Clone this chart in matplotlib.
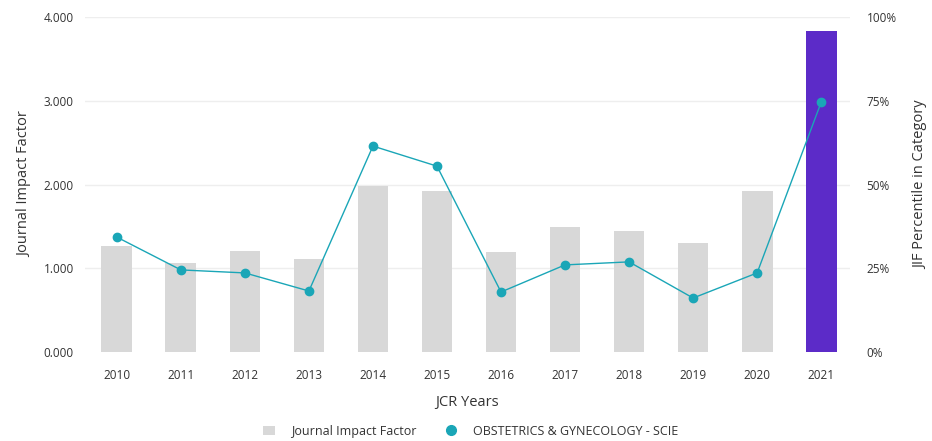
import matplotlib
matplotlib.use('Agg')
import matplotlib.pyplot as plt
from matplotlib.ticker import FuncFormatter
from matplotlib.lines import Line2D
from matplotlib.patches import Patch
import numpy as np

plt.rcParams['font.family'] = ['Open Sans', 'DejaVu Sans']

years = ['2010', '2011', '2012', '2013', '2014', '2015', '2016', '2017', '2018', '2019', '2020', '2021']
jif = [1.27, 1.06, 1.21, 1.11, 1.98, 1.92, 1.19, 1.49, 1.44, 1.30, 1.92, 3.84]
percentile = [34.3, 24.5, 23.6, 18.2, 61.5, 55.5, 17.9, 26.0, 26.9, 16.1, 23.6, 74.6]

grey = '#d8d8d8'
purple = '#5c2bc8'
teal = '#1aa6b7'
txt = '#333333'

x = np.arange(len(years))
colors = [grey] * (len(years) - 1) + [purple]

fig = plt.figure(figsize=(9.32, 4.41), dpi=100)
ax = fig.add_axes([0.091, 0.202, 0.821, 0.759])
ax.bar(x, jif, width=0.48, color=colors, zorder=2)
ax.set_ylim(0, 4)
ax.set_xlim(-0.5, 11.45)
ax.set_yticks([0, 1, 2, 3, 4])
ax.yaxis.set_major_formatter(FuncFormatter(lambda v, p: '%.3f' % v))
ax.set_xticks(x)
ax.set_xticklabels(years)
for yv in [1, 2, 3, 4]:
    ax.axhline(yv, color='#eeeeee', linewidth=1, zorder=0)
ax.tick_params(axis='x', length=0, labelsize=8.5, colors=txt, pad=12)
ax.tick_params(axis='y', length=0, labelsize=8.5, colors=txt, pad=8)
for s in ax.spines.values():
    s.set_visible(False)
ax.set_ylabel('Journal Impact Factor', fontsize=10.5, color=txt, labelpad=8)
ax.set_xlabel('JCR Years', fontsize=10.5, color=txt, labelpad=10)

ax2 = ax.twinx()
ax2.plot(x, percentile, color=teal, linewidth=1, marker='o', markersize=6, zorder=3)
ax2.set_ylim(0, 100)
ax2.set_yticks([0, 25, 50, 75, 100])
ax2.yaxis.set_major_formatter(FuncFormatter(lambda v, p: '%d%%' % v))
ax2.tick_params(length=0, labelsize=8.5, colors=txt, pad=12)
for s in ax2.spines.values():
    s.set_visible(False)
ax2.set_ylabel('JIF Percentile in Category', fontsize=10.5, color=txt, labelpad=12)

handles = [Patch(facecolor=grey, edgecolor='none'),
           Line2D([], [], color=teal, marker='o', linestyle='none', markersize=7)]
fig.legend(handles, ['Journal Impact Factor', 'OBSTETRICS & GYNECOLOGY - SCIE'],
           loc='center', bbox_to_anchor=(0.505, 0.022), ncol=2, frameon=False,
           fontsize=9, handlelength=1, handletextpad=1.3, columnspacing=2.2,
           labelcolor=txt)

fig.savefig('out.png', dpi=100)
